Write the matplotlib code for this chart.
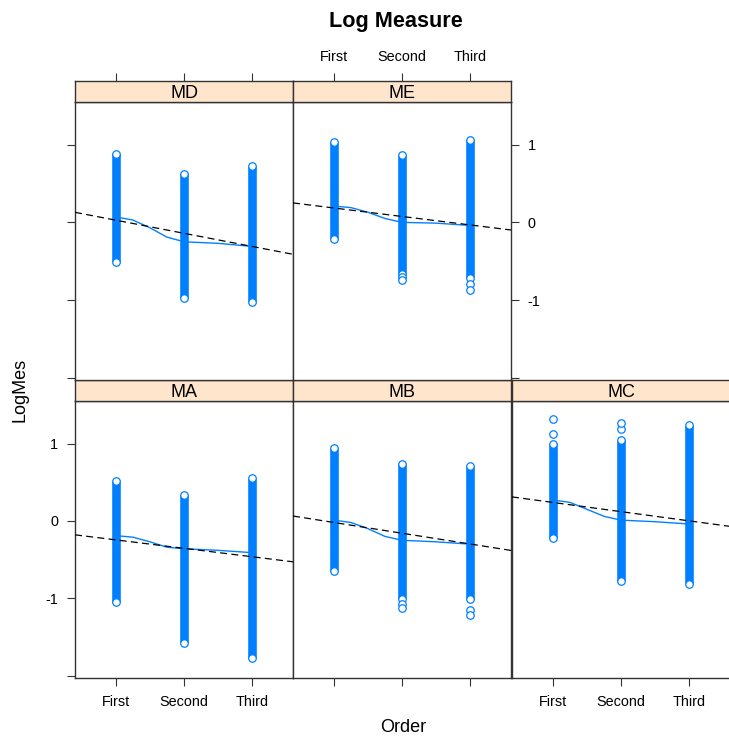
import numpy as np
import matplotlib
matplotlib.use('Agg')
import matplotlib.pyplot as plt

plt.rcParams['font.family'] = ['Liberation Sans', 'DejaVu Sans']

levels = ['First', 'Second', 'Third']
panels = ['MA', 'MB', 'MC', 'MD', 'ME']

# dense column of points (lowest / highest value) per panel and level
col_low = {'MA': [-1.05, -1.58, -1.77], 'MB': [-0.65, -1.01, -1.01],
           'MC': [-0.22, -0.77, -0.81], 'MD': [-0.51, -0.97, -1.02],
           'ME': [-0.22, -0.66, -0.72]}
col_high = {'MA': [0.51, 0.34, 0.55], 'MB': [0.94, 0.73, 0.71],
            'MC': [1.00, 1.05, 1.24], 'MD': [0.88, 0.62, 0.72],
            'ME': [1.04, 0.87, 1.06]}
# points standing apart from the dense column
loose = {'MA': [[], [], []], 'MB': [[], [-1.08, -1.13], [-1.15, -1.21]],
         'MC': [[1.12, 1.32], [1.19, 1.26], []], 'MD': [[], [], []],
         'ME': [[], [-0.70, -0.74], [-0.80, -0.87]]}

# loess smooth
smooth_x = [1, 1.25, 1.5, 1.75, 2, 2.5, 3]
smooth_y = {'MA': [-0.19, -0.21, -0.27, -0.34, -0.36, -0.38, -0.41],
            'MB': [0.01, -0.02, -0.10, -0.20, -0.25, -0.27, -0.30],
            'MC': [0.27, 0.24, 0.15, 0.06, 0.01, -0.01, -0.04],
            'MD': [0.07, 0.03, -0.07, -0.19, -0.25, -0.27, -0.31],
            'ME': [0.21, 0.19, 0.13, 0.05, 0.00, -0.01, -0.04]}

# linear fit: intercept, slope
reg = {'MA': (-0.136, -0.109), 'MB': (0.119, -0.139), 'MC': (0.358, -0.119),
       'MD': (0.197, -0.169), 'ME': (0.294, -0.109)}

blue = '#0080FF'
edge = '#333333'
W, H = 729, 737

def box(x, y, w, h):
    return [x / W, 1 - (y + h) / H, w / W, h / H]

fig = plt.figure(figsize=(W / 100, H / 100), dpi=100)

col_left = [75, 293, 512]
pw = 218
# (column, strip top, body top, body height)
where = {'MA': (0, 380, 401, 277), 'MB': (1, 380, 401, 277), 'MC': (2, 380, 401, 277),
         'MD': (0, 81, 102, 278), 'ME': (1, 81, 102, 278)}

tick_kw = dict(direction='out', length=6, width=0.8, color=edge,
               labelsize=10.4, pad=6)

for p in panels:
    c, st, bt, bh = where[p]
    ax = fig.add_axes(box(col_left[c], bt, pw, bh))
    sx = fig.add_axes(box(col_left[c], st, pw, bt - st))

    for i in range(3):
        x = i + 1
        ax.plot([x, x], [col_low[p][i], col_high[p][i]], color=blue, lw=6.2,
                solid_capstyle='butt', zorder=2)
        pts = [col_low[p][i], col_high[p][i]] + loose[p][i]
        ax.plot([x] * len(pts), pts, 'o', ms=5.4, mfc='white', mec=blue,
                mew=0.9, zorder=3)

    ax.plot(smooth_x, smooth_y[p], color=blue, lw=1.0, zorder=4)
    a, b = reg[p]
    ax.axline((0, a), slope=b, color='black', lw=0.9, ls=(0, (5.6, 3.4)), zorder=5)

    ax.set_xlim(0.4, 3.6)
    ax.set_ylim(-2.03, 1.55)
    ax.set_xticks([1, 2, 3])
    ax.set_xticklabels(levels)
    ax.set_yticks([-2, -1, 0, 1])
    ax.set_yticklabels(['', '-1', '0', '1'])
    ax.tick_params(**tick_kw)
    ax.tick_params(left=(p in ('MA', 'MD')), labelleft=(p == 'MA'),
                   right=(p in ('ME', 'MC')), labelright=(p == 'ME'),
                   bottom=(p in ('MA', 'MB', 'MC')), labelbottom=(p in ('MA', 'MC')),
                   top=False, labeltop=False)
    for s in ax.spines.values():
        s.set_color(edge)
        s.set_linewidth(1.0)

    sx.set_facecolor('#FFE5CC')
    sx.set_xlim(0.4, 3.6)
    sx.set_ylim(0, 1)
    sx.set_yticks([])
    sx.set_xticks([1, 2, 3])
    sx.set_xticklabels(levels)
    sx.tick_params(**tick_kw)
    sx.tick_params(bottom=False, labelbottom=False,
                   top=(p in ('MD', 'ME')), labeltop=(p == 'ME'))
    sx.text(2, 0.42, p, ha='center', va='center', fontsize=13)
    for s in sx.spines.values():
        s.set_color(edge)
        s.set_linewidth(1.0)

fig.text(396 / W, 1 - 21 / H, 'Log Measure', ha='center', va='center',
         fontsize=15.6, fontweight='bold')
fig.text(403 / W, 1 - 728 / H, 'Order', ha='center', va='center', fontsize=13)
fig.text(20 / W, 1 - 390 / H, 'LogMes', ha='center', va='center', fontsize=13,
         rotation=90)

fig.savefig('out.png', dpi=100)
